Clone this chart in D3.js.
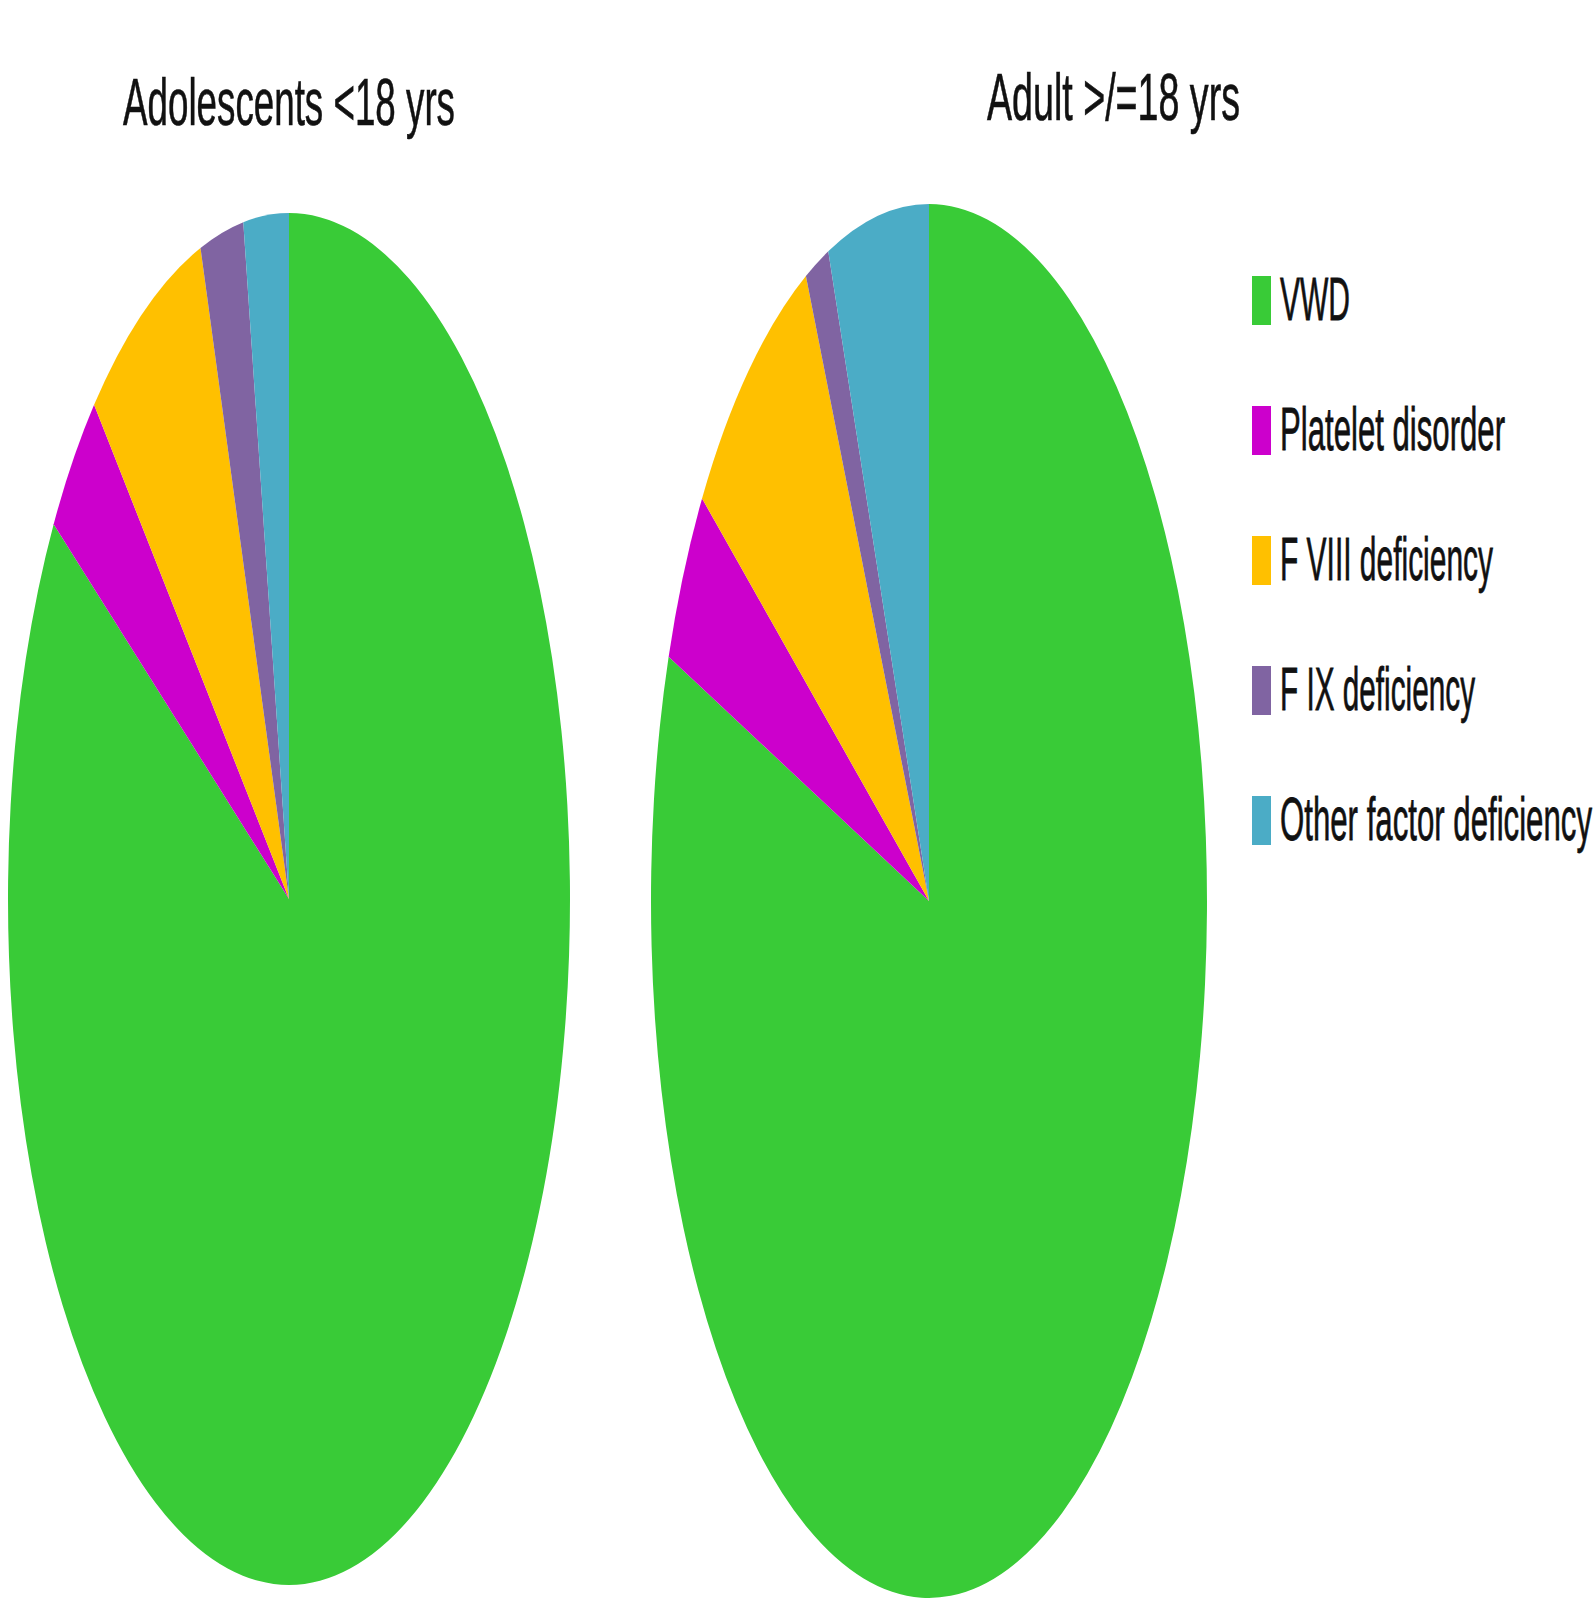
<!DOCTYPE html>
<html>
<head>
<meta charset="utf-8">
<script src="https://cdn.jsdelivr.net/npm/d3@7"></script>
<style>
  html, body { margin: 0; padding: 0; background: #fff; }
  svg { display: block; }
</style>
</head>
<body>
<script>
// Diagnosis categories and their share (%) in each age group
const categories = ["VWD", "Platelet disorder", "F VIII deficiency", "F IX deficiency", "Other factor deficiency"];
const adolescentShares = [84.2, 3.6, 7.1, 2.5, 2.6];
const adultShares = [80.7, 4.1, 7.9, 1.4, 5.9];
const groupTitles = ["Adolescents <18 yrs", "Adult >/=18 yrs"];
const palette = ["#39cb37", "#cc00cc", "#ffc000", "#8064a2", "#4bacc6"];

const W = 1595, H = 1603;
const FONT = "'Liberation Sans Narrow', 'Liberation Sans', sans-serif";
const svg = d3.select("body").append("svg").attr("width", W).attr("height", H);

const color = d3.scaleOrdinal().domain(categories).range(palette);
const pie = d3.pie().sort(null).value(d => d.value);

// Tall, narrow lettering: a small font stretched vertically and fitted to a width
function tallText(sel, x, y, size, stretch, width, str) {
  return sel.append("text")
    .attr("transform", `translate(${x},${y}) scale(1,${stretch})`)
    .attr("font-family", FONT)
    .attr("font-size", size)
    .attr("fill", "#111")
    .attr("stroke", "#111")
    .attr("stroke-width", 0.35)
    .attr("textLength", width)
    .attr("lengthAdjust", "spacingAndGlyphs")
    .text(str);
}

// Each pie is drawn as a circle of radius rx, then stretched vertically to ry
const panels = [
  { title: groupTitles[0], values: adolescentShares, cx: 289, cy: 899, rx: 281, ry: 686,
    tx: 123, ty: 125, tw: 332 },
  { title: groupTitles[1], values: adultShares, cx: 929, cy: 901, rx: 278, ry: 697,
    tx: 987, ty: 120, tw: 253 }
];

panels.forEach(p => {
  const data = categories.map((c, i) => ({ key: c, value: p.values[i] }));
  const arc = d3.arc().innerRadius(0).outerRadius(p.rx);
  svg.append("g")
    .attr("transform", `translate(${p.cx},${p.cy}) scale(1,${p.ry / p.rx})`)
    .selectAll("path")
    .data(pie(data))
    .join("path")
    .attr("d", arc)
    .attr("fill", d => color(d.data.key));

  tallText(svg, p.tx, p.ty, 36, 66 / 36, p.tw, p.title);
});

// Legend
const legendWidths = [70, 225, 213, 195, 312];
const legend = svg.append("g").attr("transform", "translate(1252,276)");
legend.selectAll("rect").data(categories).join("rect")
  .attr("y", (d, i) => i * 130)
  .attr("width", 19).attr("height", 49)
  .attr("fill", d => color(d));
categories.forEach((c, i) => {
  tallText(legend, 28, 44 + i * 130, 28, 62 / 28, legendWidths[i], c);
});
</script>
</body>
</html>
